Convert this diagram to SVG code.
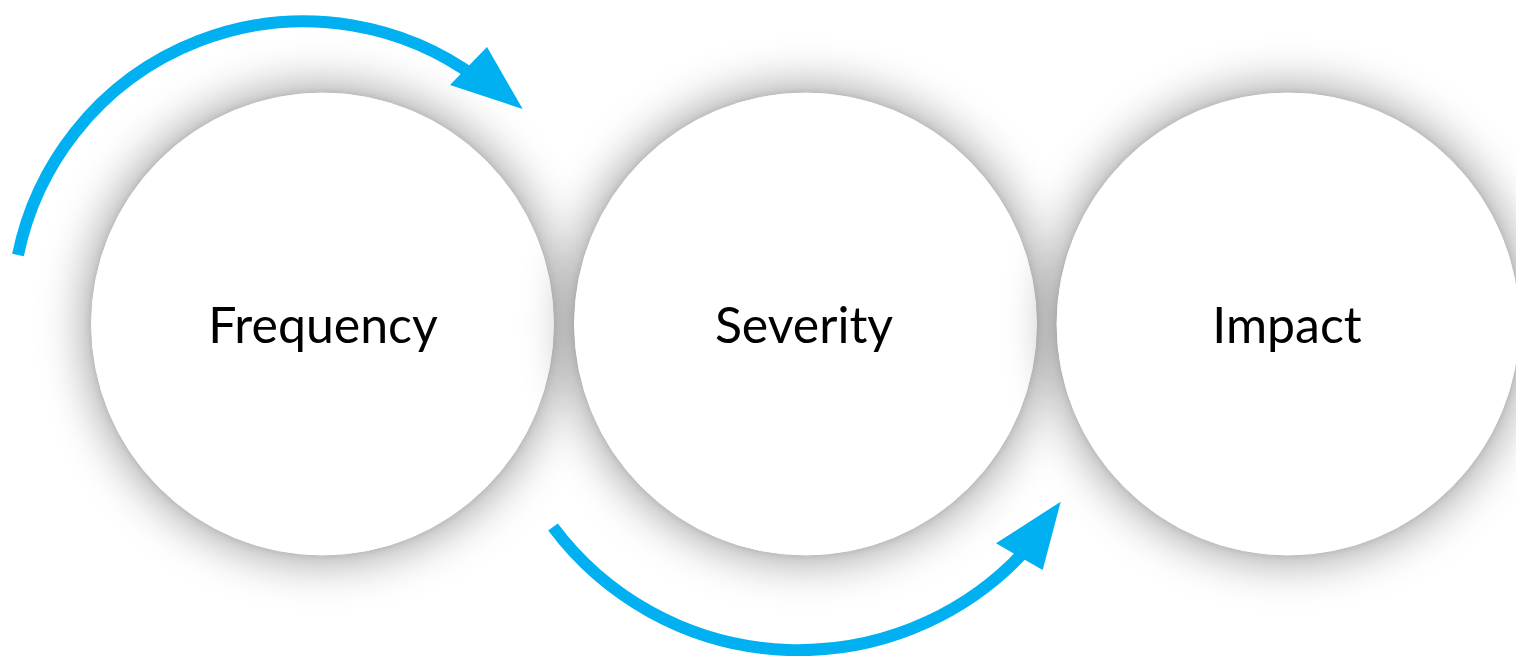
<svg xmlns="http://www.w3.org/2000/svg" width="1516" height="656" viewBox="0 0 1516 656">
  <style>
    .bg { fill: #ffffff; }
    .shWide { fill: #000000; fill-opacity: 0.32; filter: url(#blurWide); }
    .shTight { fill: #000000; fill-opacity: 0.14; filter: url(#blurTight); }
    .disc { fill: #ffffff; stroke: #ffffff; stroke-width: 1; }
    .label { font-family: Lato, "Open Sans", "Liberation Sans", sans-serif; font-size: 50px; fill: #000000; text-anchor: middle; }
    .arc { fill: none; stroke: #00B0F0; stroke-width: 12; stroke-linecap: butt; }
    .head { fill: #00B0F0; stroke: none; }
  </style>
  <defs>
    <filter id="blurWide" x="-40%" y="-40%" width="180%" height="180%">
      <feGaussianBlur stdDeviation="22"/>
    </filter>
    <filter id="blurTight" x="-20%" y="-20%" width="140%" height="140%">
      <feGaussianBlur stdDeviation="4"/>
    </filter>
  </defs>
  <rect class="bg" x="0" y="0" width="1516" height="656"/>

  <g id="node-frequency">
    <circle class="shWide" cx="322.5" cy="324" r="240"/>
    <circle class="shTight" cx="322.5" cy="324" r="231"/>
    <circle class="disc" cx="322.5" cy="324" r="231"/>
    <text class="label" x="323" y="343">Frequency</text>
  </g>

  <g id="node-severity">
    <circle class="shWide" cx="805.5" cy="324" r="240"/>
    <circle class="shTight" cx="805.5" cy="324" r="231"/>
    <circle class="disc" cx="805.5" cy="324" r="231"/>
    <text class="label" x="804" y="343">Severity</text>
  </g>

  <g id="node-impact">
    <circle class="shWide" cx="1288" cy="324" r="240"/>
    <circle class="shTight" cx="1288" cy="324" r="231"/>
    <circle class="disc" cx="1288" cy="324" r="231"/>
    <text class="label" x="1287" y="343">Impact</text>
  </g>

  <g id="connectors">
    <path class="arc" d="M18,255 A292,292 0 0 1 476.7,77.8"/>
    <polygon class="head" points="522.7,109 487,47 450,85"/>
    <path class="arc" d="M553,527 A307,307 0 0 0 1030.7,544.4"/>
    <polygon class="head" points="1060.7,501.7 996,543.3 1042.7,570"/>
  </g>
</svg>
